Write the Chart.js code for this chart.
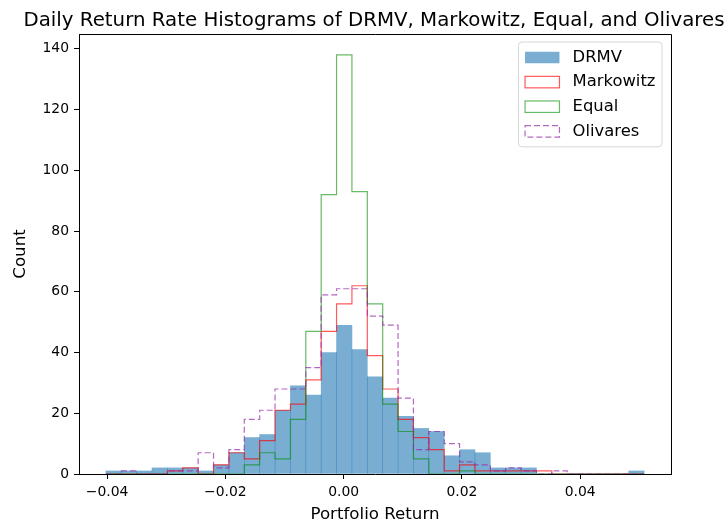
<!DOCTYPE html>
<html>
<head>
<meta charset="utf-8">
<title>Daily Return Rate Histograms</title>
<script src="https://cdn.jsdelivr.net/npm/chart.js@4.4.1/dist/chart.umd.min.js"></script>
<style>
    html, body { margin: 0; padding: 0; background: #fff; }
    #wrap { width: 728px; height: 525px; }
</style>
</head>
<body>
<div id="wrap"><canvas id="histChart" width="728" height="525"></canvas></div>
<script>
// =============================
// DATA
// =============================

const chartTitle = "Daily Return Rate Histograms of DRMV, Markowitz, Equal, and Olivares";

// shared bins: 35 equal bins between the lowest and highest daily return
const binCount = 35;
const binStart = -0.0402;
const binEnd = 0.0508;

const drmvCounts      = [1, 1, 1, 2, 2, 2, 1, 3, 7, 12, 13, 21, 29, 26, 40, 49, 41, 32, 25, 19, 15, 14, 6, 8, 7, 2, 2, 2, 0, 0, 0, 0, 0, 0, 1];
const markowitzCounts = [0, 0, 0, 0, 1, 2, 0, 3, 7, 5, 11, 21, 23, 31, 47, 56, 62, 39, 28, 18, 12, 8, 1, 3, 1, 1, 1, 1, 1, 0, 0, 0, 0, 0, 0];
const equalCounts     = [0, 0, 0, 0, 0, 0, 0, 0, 0, 3, 7, 5, 18, 47, 92, 138, 93, 56, 23, 14, 5, 0, 0, 1, 0, 0, 0, 0, 0, 0, 0, 0, 0, 0, 0];
const olivaresCounts  = [0, 1, 0, 0, 1, 1, 7, 2, 8, 18, 21, 28, 28, 35, 59, 61, 61, 52, 49, 25, 8, 14, 10, 4, 3, 1, 2, 1, 0, 1, 0, 0, 0, 0, 0];

const xTickValues = [-0.04, -0.02, 0.00, 0.02, 0.04];
const yTickValues = [0, 20, 40, 60, 80, 100, 120, 140];


// =============================
// HELPERS
// =============================

const binEdges = [];
for (let i = 0; i <= binCount; i++) {
    binEdges.push(binStart + (binEnd - binStart) * i / binCount);
}

// bar centres for the filled histogram
function barPoints(counts) {
    return counts.map((c, i) => ({ x: (binEdges[i] + binEdges[i + 1]) / 2, y: c }));
}

// outline points for a step histogram (drawn with stepped lines)
function stepPoints(counts) {
    const pts = [{ x: binEdges[0], y: 0 }];
    counts.forEach((c, i) => pts.push({ x: binEdges[i], y: c }));
    pts.push({ x: binEdges[binCount], y: 0 });
    return pts;
}

function formatReturn(v) {
    if (Math.abs(v) < 1e-9) return "0.00";
    const s = Math.abs(v).toFixed(2);
    return v < 0 ? "\u2212" + s : s;
}

const FONT = "'DejaVu Sans', sans-serif";


// =============================
// TITLE, SPINES AND LEGEND
// =============================

const histDecor = {
    id: "histDecor",
    afterDraw(chart) {

        const ctx = chart.ctx;
        const area = chart.chartArea;

        ctx.save();

        // top + right spines
        ctx.strokeStyle = "#000";
        ctx.lineWidth = 1;
        ctx.beginPath();
        ctx.moveTo(area.left, area.top + 0.5);
        ctx.lineTo(area.right + 0.5, area.top + 0.5);
        ctx.lineTo(area.right + 0.5, area.bottom);
        ctx.stroke();

        // title
        ctx.fillStyle = "#000";
        ctx.font = "19.8px " + FONT;
        ctx.textAlign = "center";
        ctx.textBaseline = "alphabetic";
        ctx.fillText(chartTitle, (area.left + area.right) / 2 - 1, area.top - 8.3);

        // legend
        const fs = 16.4;
        ctx.font = fs + "px " + FONT;
        const sets = chart.data.datasets;
        const textW = Math.max(...sets.map(d => ctx.measureText(d.label).width));
        const pad = 0.4 * fs;
        const handleLen = 2.1 * fs;
        const handleH = 0.7 * fs;
        const rowH = 24.6;

        const boxRight = area.right - 9;
        const boxTop = area.top + 8;
        const textX = boxRight - pad - textW;
        const handleX = textX - 0.8 * fs - handleLen;
        const boxLeft = handleX - pad;
        const boxBottom = boxTop + 2 * 15 + rowH * (sets.length - 1) + 1;

        const r = 3.5;
        ctx.beginPath();
        ctx.moveTo(boxLeft + r, boxTop);
        ctx.arcTo(boxRight, boxTop, boxRight, boxBottom, r);
        ctx.arcTo(boxRight, boxBottom, boxLeft, boxBottom, r);
        ctx.arcTo(boxLeft, boxBottom, boxLeft, boxTop, r);
        ctx.arcTo(boxLeft, boxTop, boxRight, boxTop, r);
        ctx.closePath();
        ctx.fillStyle = "rgba(255,255,255,0.8)";
        ctx.fill();
        ctx.strokeStyle = "#d6d6d6";
        ctx.lineWidth = 1;
        ctx.stroke();

        sets.forEach((d, i) => {

            const cy = boxTop + 15.5 + i * rowH;

            if (d.type === "bar") {
                ctx.fillStyle = d.backgroundColor;
                ctx.fillRect(handleX, cy - handleH / 2, handleLen, handleH);
            } else {
                ctx.strokeStyle = d.borderColor;
                ctx.lineWidth = d.borderWidth;
                ctx.setLineDash(d.borderDash || []);
                ctx.strokeRect(handleX, cy - handleH / 2, handleLen, handleH);
                ctx.setLineDash([]);
            }

            ctx.fillStyle = "#000";
            ctx.textAlign = "left";
            ctx.textBaseline = "middle";
            ctx.fillText(d.label, textX, cy);

        });

        ctx.restore();
    }
};


// =============================
// CHART
// =============================

document.addEventListener("DOMContentLoaded", function () {

    const axisLine = { display: true, color: "#000", width: 1 };
    const tickMarks = { display: true, drawOnChartArea: false, drawTicks: true, tickLength: 5, tickColor: "#000", tickWidth: 1, offset: false };

    new Chart(document.getElementById("histChart"), {
        type: "bar",
        data: {
            datasets: [
                {
                    type: "bar",
                    label: "DRMV",
                    data: barPoints(drmvCounts),
                    backgroundColor: "rgba(31,119,180,0.6)",
                    borderWidth: 0,
                    barPercentage: 1,
                    categoryPercentage: 1,
                    order: 4
                },
                {
                    type: "line",
                    label: "Markowitz",
                    data: stepPoints(markowitzCounts),
                    borderColor: "rgba(255,0,0,0.65)",
                    borderWidth: 1.2,
                    stepped: true,
                    pointRadius: 0,
                    fill: false,
                    order: 3
                },
                {
                    type: "line",
                    label: "Equal",
                    data: stepPoints(equalCounts),
                    borderColor: "rgba(0,140,0,0.6)",
                    borderWidth: 1.2,
                    stepped: true,
                    pointRadius: 0,
                    fill: false,
                    order: 2
                },
                {
                    type: "line",
                    label: "Olivares",
                    data: stepPoints(olivaresCounts),
                    borderColor: "rgba(150,40,170,0.7)",
                    borderWidth: 1.2,
                    borderDash: [6, 3],
                    stepped: true,
                    pointRadius: 0,
                    fill: false,
                    order: 1
                }
            ]
        },
        options: {
            responsive: false,
            animation: false,
            devicePixelRatio: 1,
            layout: { padding: { top: 34, right: 57, left: 0, bottom: 0 } },
            plugins: {
                legend: { display: false },
                tooltip: { enabled: false },
                title: { display: false }
            },
            scales: {
                x: {
                    type: "linear",
                    min: -0.04475,
                    max: 0.05535,
                    offset: false,
                    grid: tickMarks,
                    border: axisLine,
                    afterBuildTicks: scale => { scale.ticks = xTickValues.map(v => ({ value: v })); },
                    afterFit: scale => { scale.height = 51; },
                    ticks: {
                        color: "#000",
                        font: { family: FONT, size: 13.9 },
                        padding: 5,
                        maxRotation: 0,
                        autoSkip: false,
                        callback: v => formatReturn(v)
                    },
                    title: {
                        display: true,
                        text: "Portfolio Return",
                        color: "#000",
                        font: { family: FONT, size: 16.67 },
                        padding: { top: 0, bottom: 0 }
                    }
                },
                y: {
                    type: "linear",
                    min: 0,
                    max: 144.9,
                    grid: tickMarks,
                    border: axisLine,
                    afterBuildTicks: scale => { scale.ticks = yTickValues.map(v => ({ value: v })); },
                    afterFit: scale => { scale.width = 79; },
                    ticks: {
                        color: "#000",
                        font: { family: FONT, size: 13.9 },
                        padding: 5,
                        autoSkip: false,
                        callback: v => String(v)
                    },
                    title: {
                        display: true,
                        text: "Count",
                        color: "#000",
                        font: { family: FONT, size: 16.67 },
                        padding: { top: 11, bottom: 0 }
                    }
                }
            }
        },
        plugins: [histDecor]
    });

});
</script>
</body>
</html>
